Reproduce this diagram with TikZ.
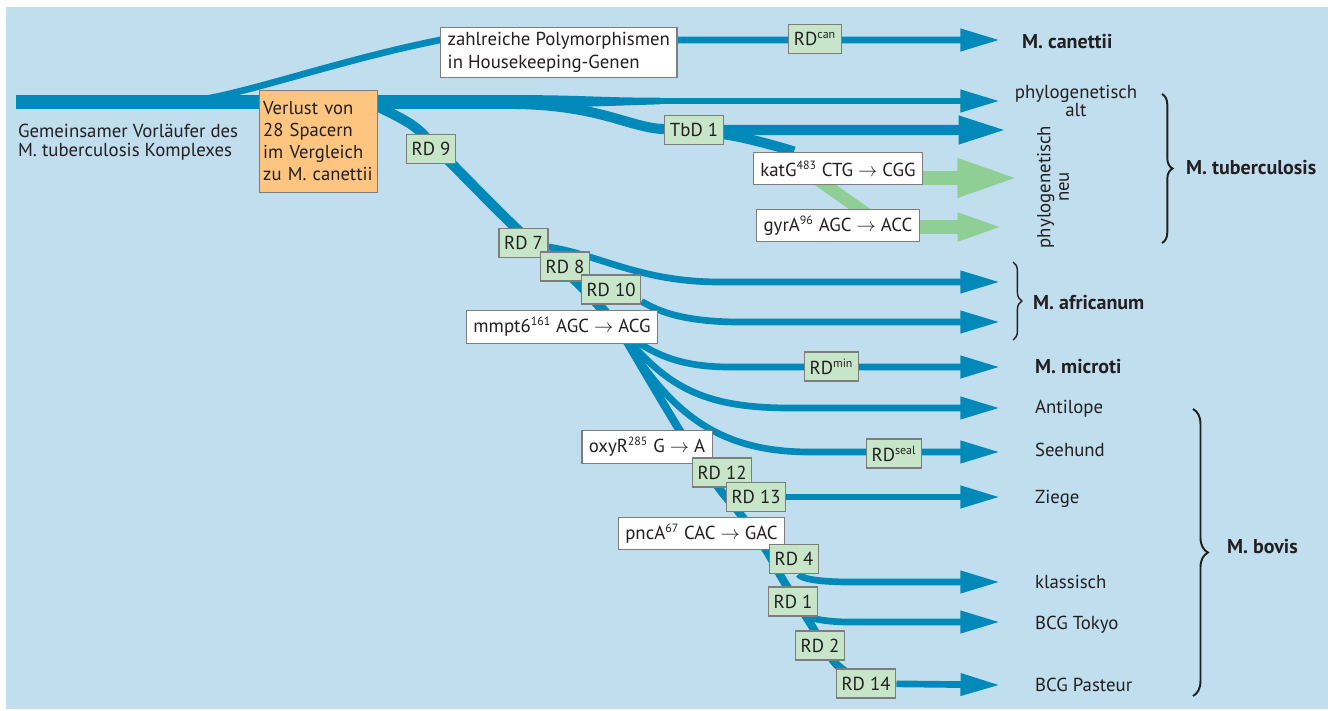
\documentclass[tikz,border=0pt]{standalone}
\usepackage{fontspec}
\setmainfont{PT Sans}
\usetikzlibrary{arrows.meta, calc, decorations.pathreplacing}

\definecolor{bgblue}{RGB}{192,222,238}
\definecolor{lineblue}{RGB}{0,137,185}
\definecolor{arrowgreen}{RGB}{143,207,150}
\definecolor{boxgreen}{RGB}{199,229,201}
\definecolor{boxorange}{RGB}{253,197,128}
\definecolor{boxline}{RGB}{125,125,125}
\definecolor{textgray}{RGB}{35,31,32}

\newcommand{\supnum}[1]{\textsuperscript{\fontsize{6.8}{7}\selectfont #1}}

\pgfdeclarelayer{back}
\pgfdeclarelayer{lines}
\pgfsetlayers{back,lines,main}

\tikzset{
  rdbox/.style={draw=boxline, line width=0.8pt, fill=boxgreen, inner xsep=3pt, inner ysep=0pt, minimum height=16.5pt},
  mutbox/.style={draw=boxline, line width=0.8pt, fill=white, inner xsep=4pt, inner ysep=0pt, minimum height=18.5pt},
  lossbox/.style={draw=boxline, line width=0.8pt, fill=boxorange, align=left, text width=63pt, inner xsep=2pt, inner ysep=2pt, minimum height=57.8pt, font=\fontsize{10.6}{12.5}\selectfont},
  leaf/.style={anchor=west, inner sep=1pt},
  species/.style={anchor=west, inner sep=1pt, font=\fontsize{11.4}{13}\selectfont\bfseries},
  trunk/.style={draw=lineblue, line width=7.9pt},
  spine/.style={draw=lineblue, line width=5.7pt},
  spinelow/.style={draw=lineblue, line width=4.6pt},
  branch/.style={draw=lineblue, line width=3.8pt},
  bluearrow/.style={draw=lineblue, line width=3.8pt, -{Triangle[length=22.5pt, width=12pt]}},
  widearrow/.style={draw=lineblue, line width=5.7pt, -{Triangle[length=27.5pt, width=14.7pt]}},
  greenline/.style={draw=arrowgreen, line width=7pt},
  greenbig/.style={draw=arrowgreen, line width=8.5pt, -{Triangle[length=35.7pt, width=19.8pt]}},
  greensmall/.style={draw=arrowgreen, line width=8pt, -{Triangle[length=27pt, width=14.2pt]}},
  grouping/.style={draw=textgray, line width=1.1pt, decorate, decoration={brace, amplitude=#1}},
}

\begin{document}
\begin{tikzpicture}[x=0.02cm, y=-0.02cm, font=\fontsize{10.7}{12.5}\selectfont, every node/.append style={text=textgray}]
  \useasboundingbox (0,0) rectangle (1328,710);
  \begin{pgfonlayer}{back}
    \fill[bgblue] (6,7) rectangle (1328,709);
  \end{pgfonlayer}

  % boxes on the tree
  \node[leaf, align=left, font=\fontsize{10.7}{11}\selectfont] (ancestor) at (16,142) {Gemeinsamer Vorläufer des\\M. tuberculosis Komplexes};
  \node[lossbox, anchor=north west] (loss) at (259,90) {Verlust von\\28 Spacern\\im Vergleich\\zu M. canettii};
  \node[mutbox, anchor=north west, align=left, minimum height=28.3pt, font=\fontsize{10.7}{13}\selectfont] (poly) at (440,27) {zahlreiche Polymorphismen\\in Housekeeping-Genen};
  \node[rdbox] (RDcan) at (815,39) {RD\supnum{can}};
  \node[rdbox] (RD9) at (431,149) {RD 9};
  \node[rdbox] (TbD1) at (694,130) {TbD 1};
  \node[mutbox] (katG) at (838,168.5) {katG\supnum{483} CTG $\rightarrow$ CGG};
  \node[mutbox] (gyrA) at (838,225.5) {gyrA\supnum{96} AGC $\rightarrow$ ACC};
  \node[rdbox] (RD7) at (523.5,243) {RD 7};
  \node[rdbox] (RD8) at (565,266.5) {RD 8};
  \node[rdbox] (RD10) at (611,289.5) {RD 10};
  \node[mutbox] (mmpt6) at (562,327) {mmpt6\supnum{161} AGC $\rightarrow$ ACG};
  \node[rdbox] (RDmin) at (831.5,366.5) {RD\supnum{min}};
  \node[mutbox] (oxyR) at (647,447) {oxyR\supnum{285} G $\rightarrow$ A};
  \node[rdbox] (RDseal) at (894,453.5) {RD\supnum{seal}};
  \node[rdbox] (RD12) at (722,472.5) {RD 12};
  \node[rdbox] (RD13) at (756,497) {RD 13};
  \node[mutbox] (pncA) at (701.5,533.5) {pncA\supnum{67} CAC $\rightarrow$ GAC};
  \node[rdbox] (RD4) at (794,559) {RD 4};
  \node[rdbox] (RD1) at (793,601.5) {RD 1};
  \node[rdbox] (RD2) at (820,645.5) {RD 2};
  \node[rdbox] (RD14) at (866,683.5) {RD 14};

  % names on the right
  \node[species] (canettii) at (1020,42) {M. canettii};
  \node[align=center, inner sep=1pt, font=\fontsize{10.7}{10.5}\selectfont] (alt) at (1076,101) {phylogenetisch\\alt};
  \node[rotate=90, align=center, inner sep=1pt, font=\fontsize{10.7}{10.5}\selectfont] (neu) at (1053,187) {phylogenetisch\\neu};
  \node[species] (tuberculosis) at (1184,168) {M. tuberculosis};
  \node[species] (africanum) at (1031,303) {M. africanum};
  \node[species] (microti) at (1033,367) {M. microti};
  \node[leaf] (antilope) at (1033,409) {Antilope};
  \node[leaf] (seehund) at (1033,450) {Seehund};
  \node[leaf] (ziege) at (1033,499) {Ziege};
  \node[leaf] (klassisch) at (1033,582) {klassisch};
  \node[leaf] (tokyo) at (1033,625) {BCG Tokyo};
  \node[leaf] (pasteur) at (1033,685) {BCG Pasteur};
  \node[species] (bovis) at (1225,547) {M. bovis};

  % ends of the arrows
  \coordinate (start) at (16,102);
  \coordinate (split) at (520,102);
  \coordinate (canFork) at (180,102);
  \coordinate (canE) at (1000,40);
  \coordinate (altE) at (1000,101);
  \coordinate (tbd0) at (515,104);
  \coordinate (tbdE) at (1007,130);
  \coordinate (katE) at (1020,178);
  \coordinate (gyrE) at (1005,227);
  \coordinate (afrE1) at (1000,282);
  \coordinate (afrE2) at (1000,322);
  \coordinate (micE) at (1000,367);
  \coordinate (antE) at (1000,408);
  \coordinate (seeE) at (1000,452);
  \coordinate (zieE) at (1000,497);
  \coordinate (klaE) at (1000,582);
  \coordinate (tokE) at (1000,622);
  \coordinate (pasE) at (1000,685);

  % the spine
  \coordinate (sp0) at (372,104);
  \coordinate (sp1) at (412,125);
  \coordinate (sp2) at (440,152);
  \coordinate (sp3) at (518,230);
  \coordinate (sp4) at (578,283);
  \coordinate (sp5) at (620,330);
  \coordinate (sp6) at (680,431);
  \coordinate (sp7) at (718,487);
  \coordinate (sp8) at (741,515);
  \coordinate (sp9) at (766,550);
  \coordinate (sp10) at (783,580);
  \coordinate (sp11) at (810,623);
  \coordinate (sp12) at (836,664);

  \begin{pgfonlayer}{lines}
    \draw[trunk] (start) -- (split);
    \fill[lineblue] (519,95.1) .. controls (580,95.1) and (600,97.7) .. (660,97.7) -- (660,104.3) -- (519,108.9) -- cycle;
    \draw[bluearrow] (canFork) .. controls (230,100) and (330,62) .. (poly.west |- canE) -- (canE);
    \draw[bluearrow] (tbd0 |- altE) -- (altE);
    \draw[widearrow] (tbd0) .. controls (600,105) and (630,128) .. (TbD1) -- (tbdE);
    \draw[spine] (TbD1) .. controls (750,138) and (790,150) .. (katG);
    \draw[greenline] ($(katG)+(-36,0)$) -- ($(gyrA)+(45,0)$);
    \draw[greenbig] (katG.east |- katE) -- (katE);
    \draw[greensmall] (gyrA.east |- gyrE) -- (gyrE);

    \draw[spine] plot[smooth, tension=0.6] coordinates {(sp0) (sp1) (sp2) (sp3) (sp4) (sp5)};
    \draw[spinelow] plot[smooth, tension=0.5] coordinates {(sp5) (sp6) (sp7) (sp8) (sp9) (sp10) (sp11) (sp12) (RD14)};

    \draw[bluearrow] (RD7) .. controls (600,255) and (640,282) .. (720,282) -- (afrE1);
    \draw[bluearrow] (RD10) .. controls (650,305) and (670,322) .. (740,322) -- (afrE2);
    \draw[bluearrow] (sp5) .. controls (650,352) and (675,367) .. (730,367) -- (micE);
    \draw[bluearrow] (sp5) .. controls (665,385) and (700,408) .. (790,408) -- (antE);
    \draw[bluearrow] (sp5) .. controls (670,415) and (720,452) .. (810,452) -- (seeE);
    \draw[bluearrow] (RD13) -- (zieE);
    \draw[bluearrow] (RD4) .. controls (800,578) and (815,582) .. (850,582) -- (klaE);
    \draw[bluearrow] (RD1) .. controls (805,615) and (815,622) .. (850,622) -- (tokE);
    \draw[bluearrow] (RD14) -- (pasE);
  \end{pgfonlayer}

  % braces
  \coordinate (tbTop) at (1162,94);
  \coordinate (tbBot) at (1162,243);
  \coordinate (afTop) at (1013,262);
  \coordinate (afBot) at (1013,340);
  \coordinate (boTop) at (1193,409);
  \coordinate (boBot) at (1193,696);
  \draw[grouping=6pt] (tbTop) -- (tbBot);
  \draw[grouping=5pt, line width=0.8pt] (afTop) -- (afBot);
  \draw[grouping=8.5pt] (boTop) -- (boBot);
\end{tikzpicture}
\end{document}
